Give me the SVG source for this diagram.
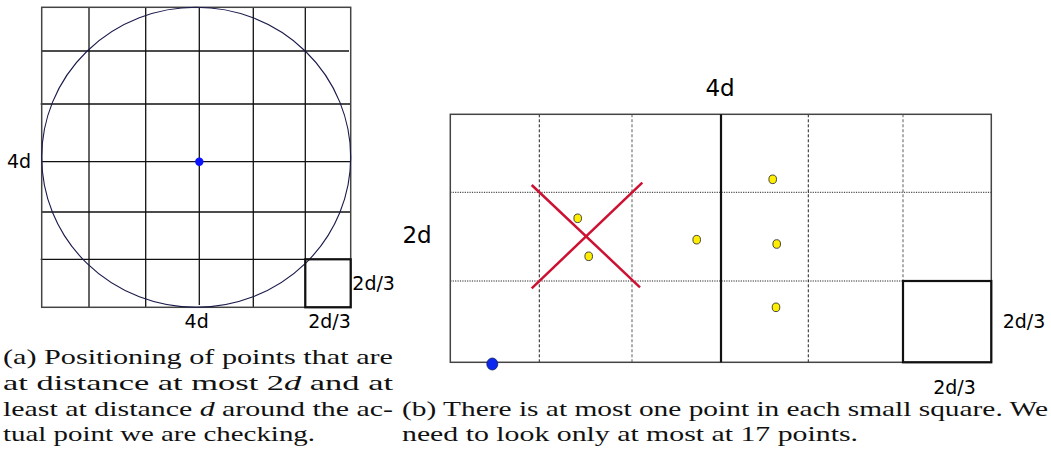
<svg xmlns="http://www.w3.org/2000/svg" width="1051" height="475" viewBox="0 0 1051 475">
<style>
.lbl{font-family:"DejaVu Sans","Liberation Sans",sans-serif;fill:#000}
.cap{font-family:"Liberation Serif","DejaVu Serif",serif;font-size:21.5px;fill:#111}
.grid{stroke:#111;stroke-width:1.3;fill:none}
.edge{stroke:#444;stroke-width:1.5;fill:none}
.thick{stroke:#111;stroke-width:2.2;fill:none}
.dash{stroke:#222;stroke-width:1;stroke-dasharray:3 2;fill:none}
.dashg{stroke:#777;stroke-width:1.2;stroke-dasharray:3 2;fill:none}
.dot{stroke:#222;stroke-width:1;stroke-dasharray:1.2 1.2;fill:none}
.cross{stroke:#cc1133;stroke-width:2.5;fill:none}
.yel{fill:#ffee00;stroke:#333;stroke-width:0.9}
</style>
<rect width="1051" height="475" fill="#fff"/>
<g id="left-diagram">
  <g id="left-grid">
    <line class="grid" x1="89" y1="7.3" x2="89" y2="307.3"/>
    <line class="grid" x1="145.7" y1="7.3" x2="145.7" y2="307.3"/>
    <line class="grid" x1="199.3" y1="7.3" x2="199.3" y2="305"/>
    <line class="grid" x1="253.3" y1="7.3" x2="253.3" y2="307.3"/>
    <line class="grid" x1="305.3" y1="7.3" x2="305.3" y2="307.3"/>
    <line class="grid" x1="41.7" y1="51" x2="349" y2="51"/>
    <line class="grid" x1="40.7" y1="104" x2="350.7" y2="104"/>
    <line class="grid" x1="41.7" y1="161.7" x2="350.7" y2="161.7"/>
    <line class="grid" x1="41.7" y1="212" x2="350.7" y2="212"/>
    <line class="grid" x1="40.7" y1="259.3" x2="350.7" y2="259.3"/>
    <rect class="edge" x="41.7" y="7.3" width="309" height="300"/>
  </g>
  <ellipse id="circle" cx="196.2" cy="157.3" rx="154.5" ry="150" fill="none" stroke="#1a1a4a" stroke-width="1.1"/>
  <rect id="left-small-square" class="thick" x="305.3" y="259.3" width="45.4" height="48"/>
  <circle id="left-center-point" cx="199.3" cy="161.7" r="4.2" fill="#0a14ff"/>
  <text class="lbl" x="19" y="168" font-size="19" text-anchor="middle">4d</text>
  <text class="lbl" x="196.7" y="328" font-size="19" text-anchor="middle">4d</text>
  <text class="lbl" x="329.5" y="328" font-size="19" text-anchor="middle">2d/3</text>
  <text class="lbl" x="352.3" y="290" font-size="19">2d/3</text>
</g>
<g id="right-diagram">
  <g id="right-grid">
    <line class="dash" x1="539.3" y1="114.3" x2="539.3" y2="362.3"/>
    <line class="dashg" x1="632" y1="114.3" x2="632" y2="362.3"/>
    <line class="dash" x1="808.3" y1="114.3" x2="808.3" y2="362.3"/>
    <line class="dashg" x1="903" y1="114.3" x2="903" y2="281"/>
    <line class="dot" x1="450.3" y1="192.3" x2="991.3" y2="192.3"/>
    <line class="dot" x1="450.3" y1="281" x2="903" y2="281"/>
    <rect class="edge" x="450.3" y="114.3" width="541" height="248"/>
    <line class="thick" x1="721" y1="114.3" x2="721" y2="362.3" stroke-width="2.6"/>
  </g>
  <rect id="right-small-square" class="thick" x="903" y="281" width="88.3" height="81.3"/>
  <g id="excluded-cross">
    <line class="cross" x1="531.7" y1="185" x2="640" y2="287.3"/>
    <line class="cross" x1="531.7" y1="288.3" x2="642.3" y2="182.7"/>
  </g>
  <g id="points">
    <ellipse class="yel" cx="577.7" cy="218.3" rx="3.8" ry="4.3"/>
    <ellipse class="yel" cx="588.7" cy="256.3" rx="3.8" ry="4.3"/>
    <ellipse class="yel" cx="696.7" cy="239.7" rx="3.8" ry="4.3"/>
    <ellipse class="yel" cx="772.7" cy="179.3" rx="3.8" ry="4.3"/>
    <ellipse class="yel" cx="776.7" cy="244" rx="3.8" ry="4.3"/>
    <ellipse class="yel" cx="776" cy="307.3" rx="3.8" ry="4.3"/>
  </g>
  <ellipse id="current-point" cx="492.3" cy="364" rx="5.5" ry="6" fill="#0a28ee" stroke="#102060" stroke-width="0.8"/>
  <text class="lbl" x="720" y="96" font-size="23" text-anchor="middle">4d</text>
  <text class="lbl" x="417" y="243" font-size="23" text-anchor="middle">2d</text>
  <text class="lbl" x="1002.7" y="328" font-size="19">2d/3</text>
  <text class="lbl" x="954.5" y="394" font-size="19" text-anchor="middle">2d/3</text>
</g>
<g id="caption-a">
  <text class="cap" x="3" y="364" textLength="390" lengthAdjust="spacingAndGlyphs">(a) Positioning of points that are</text>
  <text class="cap" x="3" y="390" textLength="390" lengthAdjust="spacingAndGlyphs">at distance at most 2<tspan font-style="italic">d</tspan> and at</text>
  <text class="cap" x="3" y="415.5" textLength="390" lengthAdjust="spacingAndGlyphs">least at distance <tspan font-style="italic">d</tspan> around the ac-</text>
  <text class="cap" x="3" y="441" textLength="312" lengthAdjust="spacingAndGlyphs">tual point we are checking.</text>
</g>
<g id="caption-b">
  <text class="cap" x="402" y="415.5" textLength="646" lengthAdjust="spacingAndGlyphs">(b) There is at most one point in each small square. We</text>
  <text class="cap" x="402" y="441" textLength="456" lengthAdjust="spacingAndGlyphs">need to look only at most at 17 points.</text>
</g>
</svg>
